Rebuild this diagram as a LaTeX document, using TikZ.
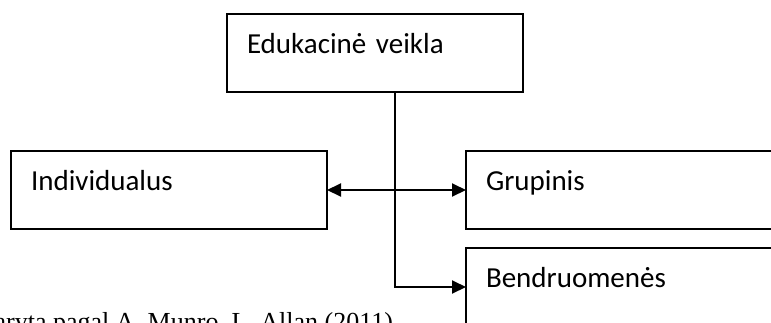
\documentclass[tikz,border=0pt]{standalone}
\usepackage{fontspec}
\setmainfont{Carlito}
\newfontfamily\captionfont{Liberation Serif}
\usetikzlibrary{arrows.meta}

\begin{document}
\begin{tikzpicture}[x=1pt, y=-1pt,
    line width=2pt,
    box/.style={draw, rectangle, anchor=north west, outer sep=0pt,
      inner xsep=20pt, inner ysep=0pt, text height=39.5pt, text depth=38.5pt,
      align=left, font=\fontsize{29}{34}\selectfont},
    wide/.style={box, text width=276pt},
    arr/.style={-{Triangle[length=14pt,width=13pt]}},
    arrs/.style={{Triangle[length=14pt,width=13pt]}-{Triangle[length=14pt,width=13pt]}}
    ]
    \useasboundingbox (0,0) rectangle (771,322);
    \node[box, text width=256pt] (edu) at (227,14) {Edukacinė veikla};
    \node[wide] (ind) at (11,151) {Individualus};
    \node[wide] (grp) at (466,151) {Grupinis};
    \node[wide] (bend) at (466,248) {Bendruomenės};
    \coordinate (trunk) at (395,0);
    \draw[arr] (edu.south -| trunk) |- (bend.west);
    \draw[arrs] (ind.east) -- (grp.west);
    \node[font=\captionfont\fontsize{26}{31}\selectfont, anchor=base east,
      inner sep=0pt] (src) at (394,330) {Sudaryta pagal A. Munro, L. Allan (2011)};
  \end{tikzpicture}
\end{document}
